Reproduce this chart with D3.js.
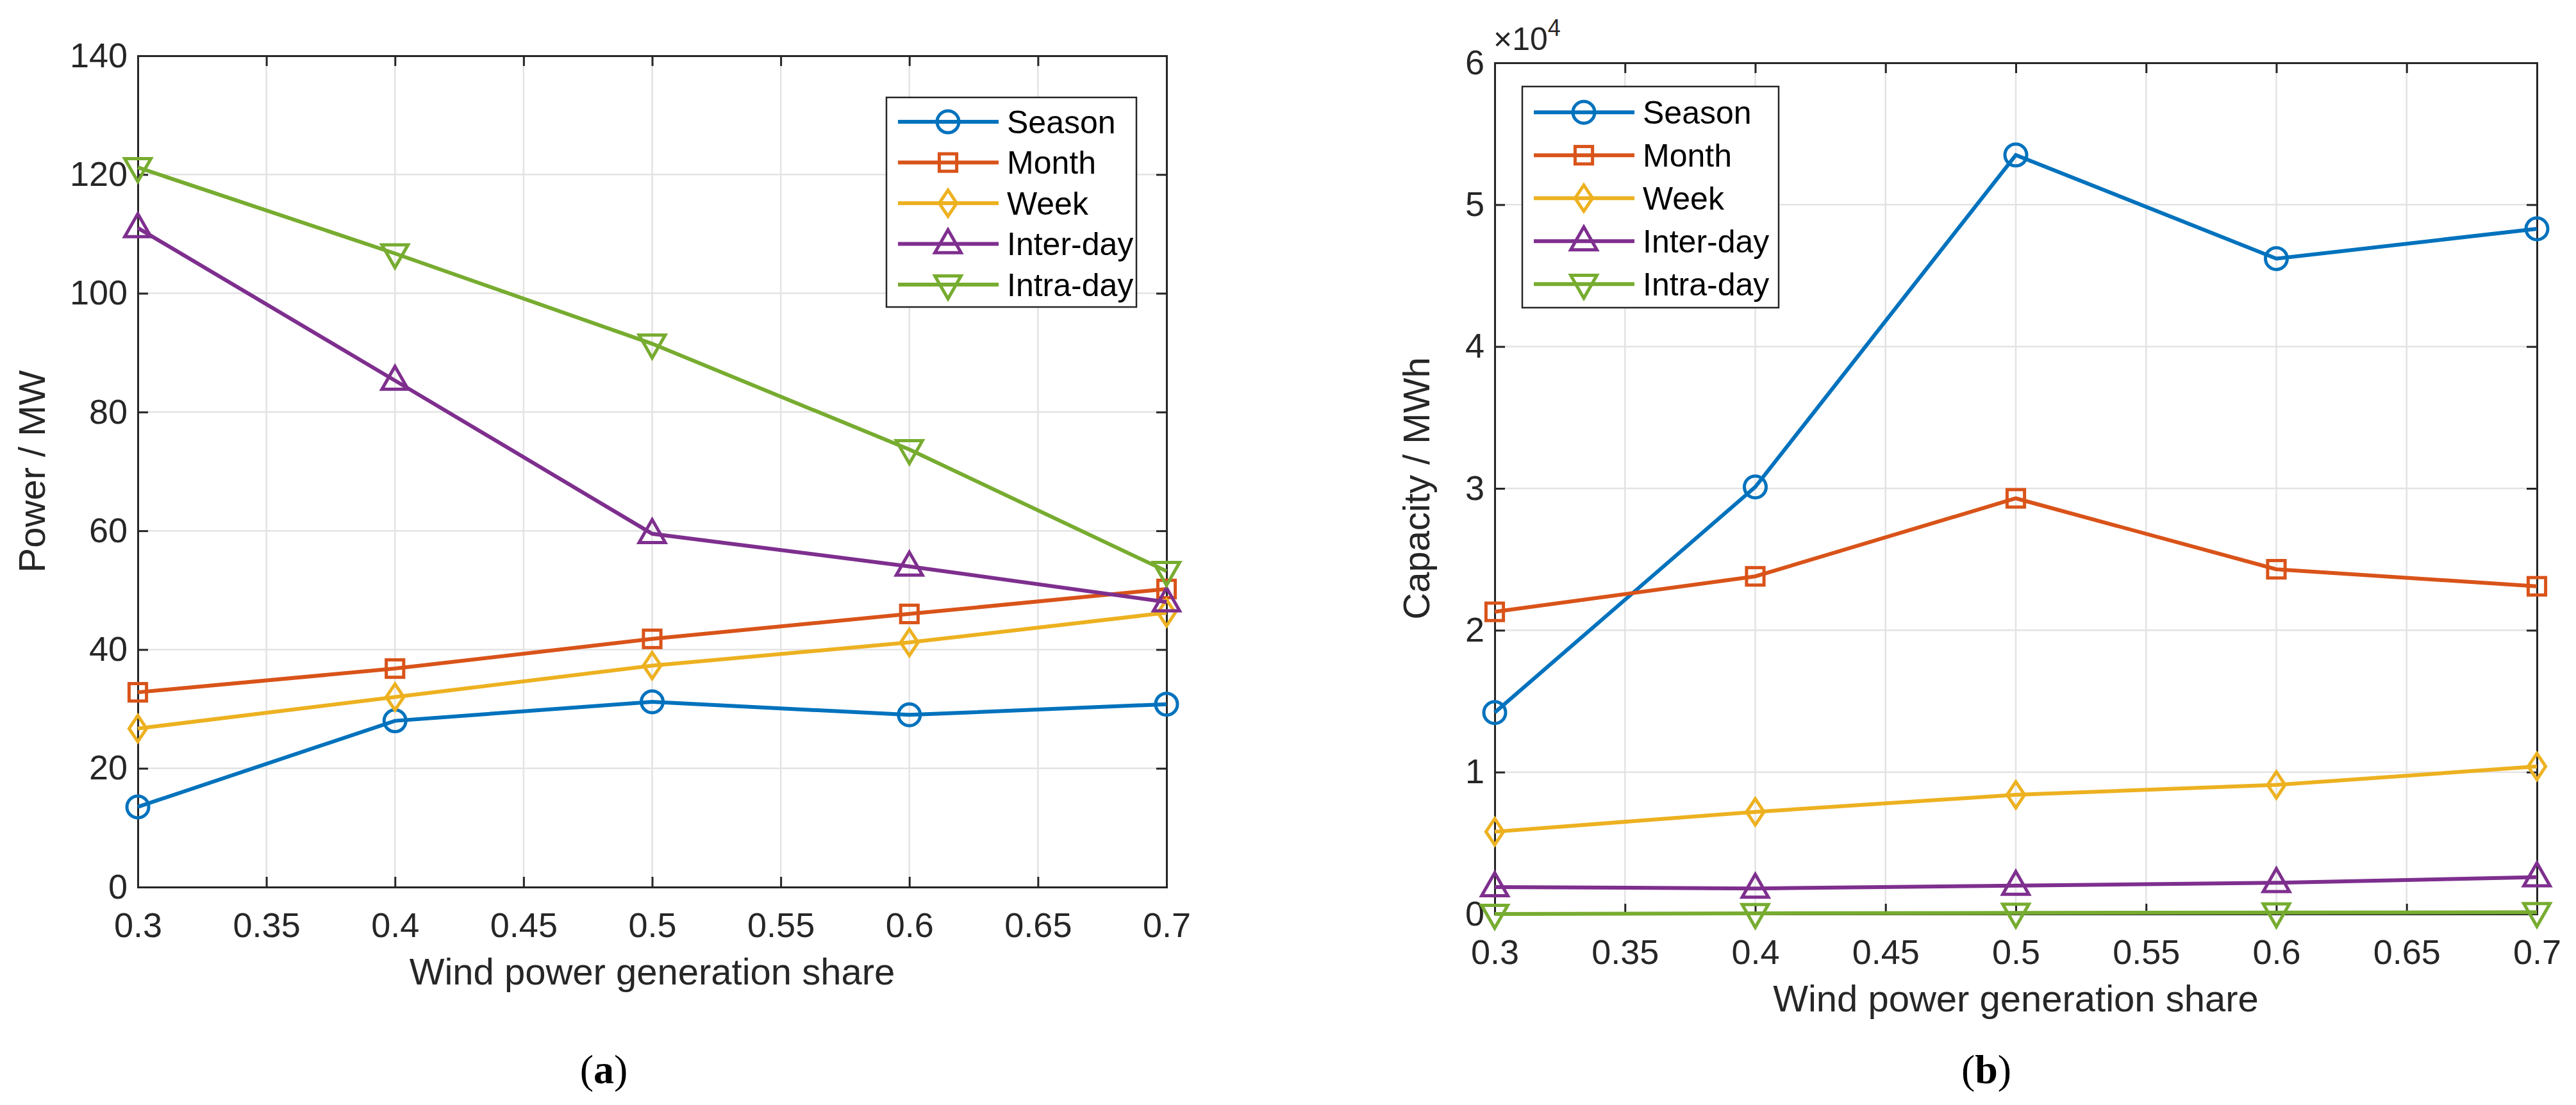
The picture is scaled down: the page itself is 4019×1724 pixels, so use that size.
<!DOCTYPE html>
<html><head><meta charset="utf-8">
<script src="https://cdn.jsdelivr.net/npm/d3@7"></script>
<style>body{margin:0;background:#fff}</style></head>
<body><svg id="c" width="4019" height="1724"></svg>
<script>
const xValues = [0.3, 0.4, 0.5, 0.6, 0.7];
const seriesNames = ["Season", "Month", "Week", "Inter-day", "Intra-day"];
const colors = ["#0072BD", "#D95319", "#EDB120", "#7E2F8E", "#77AC30"];
const markers = ["circle", "square", "diamond", "up", "down"];
const powerSeason = [13.5, 28, 31.2, 29, 30.8];
const powerMonth = [32.8, 36.8, 41.8, 46, 50.2];
const powerWeek = [26.7, 32, 37.3, 41.2, 46.2];
const powerInter = [111, 85.3, 59.5, 54, 48];
const powerIntra = [121.2, 106.7, 91.5, 73.7, 53.2];
const capSeason = [1.42, 3.01, 5.35, 4.62, 4.83];
const capMonth = [2.13, 2.38, 2.93, 2.43, 2.31];
const capWeek = [0.58, 0.72, 0.84, 0.91, 1.04];
const capInter = [0.19, 0.18, 0.20, 0.22, 0.26];
const capIntra = [0.0, 0.005, 0.008, 0.01, 0.012];
const xTicks = [0.3, 0.35, 0.4, 0.45, 0.5, 0.55, 0.6, 0.65, 0.7];
const powerTicks = [0, 20, 40, 60, 80, 100, 120, 140];
const capTicks = [0, 1, 2, 3, 4, 5, 6];

const svg = d3.select("#c");
const F = "Arial, 'Liberation Sans', sans-serif";

function marker(g, type, x, y, c) {
  const s = 17;
  let el;
  if (type === "circle") el = g.append("circle").attr("cx", x).attr("cy", y).attr("r", s);
  else if (type === "square") el = g.append("rect").attr("x", x - s*0.8).attr("y", y - s*0.8).attr("width", s*1.6).attr("height", s*1.6);
  else {
    let pts;
    if (type === "diamond") pts = [[0,-s*1.2],[s*0.8,0],[0,s*1.2],[-s*0.8,0]];
    else if (type === "up") pts = [[0,-s*1.3],[s*1.2,s*0.8],[-s*1.2,s*0.8]];
    else pts = [[0,s*1.3],[s*1.2,-s*0.8],[-s*1.2,-s*0.8]];
    el = g.append("polygon").attr("points", pts.map(p => (x+p[0])+","+(y+p[1])).join(" "));
  }
  el.attr("fill", "none").attr("stroke", c).attr("stroke-width", 5);
}

function panel(o) {
  const g = svg.append("g");
  const x = d3.scaleLinear().domain([0.3, 0.7]).range([o.l, o.r]);
  const y = d3.scaleLinear().domain([0, o.ymax]).range([o.b, o.t]);
  g.selectAll(".gx").data(xTicks).join("line").attr("x1", d => x(d)).attr("x2", d => x(d))
    .attr("y1", o.t).attr("y2", o.b).attr("stroke", "#e3e3e3").attr("stroke-width", 2.5);
  g.selectAll(".gy").data(o.yt).join("line").attr("y1", d => y(d)).attr("y2", d => y(d))
    .attr("x1", o.l).attr("x2", o.r).attr("stroke", "#e3e3e3").attr("stroke-width", 2.5);
  g.append("g").attr("transform", `translate(0,${o.b})`).call(d3.axisBottom(x).tickValues(xTicks).tickSize(-16).tickPadding(40).tickFormat(d => d3.format("")(d)));
  g.append("g").attr("transform", `translate(${o.l},0)`).call(d3.axisLeft(y).tickValues(o.yt).tickSize(-16).tickPadding(16).tickFormat(d3.format("d")));
  g.append("g").attr("transform", `translate(0,${o.t})`).call(d3.axisTop(x).tickValues(xTicks).tickSize(-16).tickFormat(""));
  g.append("g").attr("transform", `translate(${o.r},0)`).call(d3.axisRight(y).tickValues(o.yt).tickSize(-16).tickFormat(""));
  g.selectAll(".domain").attr("stroke", "#262626").attr("stroke-width", 3);
  g.selectAll(".tick line").attr("stroke", "#262626").attr("stroke-width", 3);
  g.selectAll(".tick text").attr("font-family", F).attr("font-size", 54).attr("fill", "#262626");
  o.data.forEach((vals, i) => {
    const line = d3.line().x((d, j) => x(xValues[j])).y(d => y(d));
    g.append("path").datum(vals).attr("d", line).attr("fill", "none").attr("stroke", colors[i]).attr("stroke-width", 6);
    vals.forEach((v, j) => marker(g, markers[i], x(xValues[j]), y(v), colors[i]));
  });
  g.append("text").attr("x", (o.l + o.r) / 2).attr("y", o.b + 152).attr("text-anchor", "middle")
    .attr("font-family", F).attr("font-size", 58).attr("fill", "#262626").text("Wind power generation share");
  g.append("text").attr("transform", `translate(${o.yl},${(o.t + o.b) / 2}) rotate(-90)`).attr("text-anchor", "middle")
    .attr("font-family", F).attr("font-size", 58).attr("fill", "#262626").text(o.ylabel);
  const L = o.leg;
  g.append("rect").attr("x", L.x).attr("y", L.y).attr("width", L.w).attr("height", L.h)
    .attr("fill", "#fff").attr("stroke", "#262626").attr("stroke-width", 2.5);
  const rowH = L.h / 5.15;
  seriesNames.forEach((n, i) => {
    const cy = L.y + rowH * (i + 0.6);
    g.append("line").attr("x1", L.x + 18).attr("x2", L.x + 175).attr("y1", cy).attr("y2", cy).attr("stroke", colors[i]).attr("stroke-width", 6);
    marker(g, markers[i], L.x + 96, cy, colors[i]);
    g.append("text").attr("x", L.x + 188).attr("y", cy).attr("dy", "0.35em").attr("font-family", F)
      .attr("font-size", 50).attr("fill", "#000").text(n);
  });
  const cap = g.append("text").attr("x", o.capx).attr("y", 1690).attr("text-anchor", "middle")
    .attr("font-family", "'Liberation Serif', 'Times New Roman', serif").attr("font-size", 64).attr("fill", "#000");
  cap.append("tspan").text("(");
  cap.append("tspan").attr("font-weight", "bold").text(o.cap);
  cap.append("tspan").text(")");
  return g;
}

panel({l: 215, r: 1820, t: 87, b: 1384, ymax: 140, yt: powerTicks, ylabel: "Power / MW", yl: 70,
  data: [powerSeason, powerMonth, powerWeek, powerInter, powerIntra],
  leg: {x: 1383, y: 152, w: 390, h: 327}, cap: "a", capx: 942});
const gb = panel({l: 2332, r: 3958, t: 98, b: 1426, ymax: 6, yt: capTicks, ylabel: "Capacity / MWh", yl: 2230,
  data: [capSeason, capMonth, capWeek, capInter, capIntra],
  leg: {x: 2375, y: 135, w: 400, h: 345}, cap: "b", capx: 3099});
const ex = gb.append("text").attr("x", 2330).attr("y", 78).attr("font-family", F).attr("font-size", 50).attr("fill", "#262626");
ex.append("tspan").text("\u00d710");
ex.append("tspan").attr("font-size", 36).attr("dy", -22).text("4");
</script></body></html>
